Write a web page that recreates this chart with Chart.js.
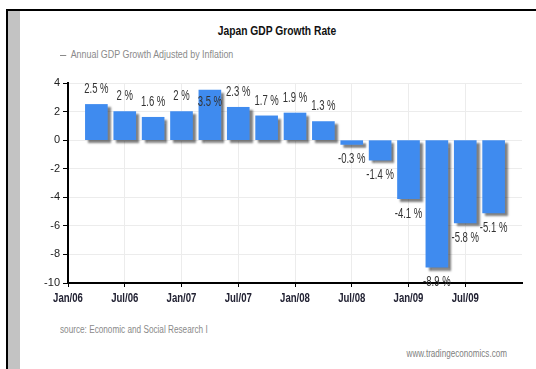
<!DOCTYPE html>
<html>
<head>
<meta charset="utf-8">
<script src="https://cdn.jsdelivr.net/npm/chart.js@4.4.1/dist/chart.umd.min.js"></script>
<style>
  body { margin: 0; background: #fff; }
  #page { position: relative; width: 536px; height: 369px; overflow: hidden; font-family: 'Liberation Sans', Arial, sans-serif; }
  .frame-top { position: absolute; left: 6px; top: 9px; width: 530px; height: 2px; background: #000; }
  .frame-left { position: absolute; left: 6px; top: 9px; width: 2px; height: 360px; background: #000; }
  .frame-strip { position: absolute; left: 8px; top: 11px; width: 12px; height: 358px; background: #c3c3c3; }
  .txt { position: absolute; white-space: nowrap; }
  #title { left: 277px; top: 23px; font-weight: bold; font-size: 13px; color: #111; transform: translateX(-50%) scaleX(0.79); }
  #legend { left: 60px; top: 49px; font-size: 10px; color: #8a8a8a; transform-origin: 0 50%; transform: scaleX(0.89); }
  #legend .dash { display: inline-block; width: 7px; height: 1px; background: #8a8a8a; vertical-align: middle; margin-right: 5px; }
  #source { left: 60px; top: 324px; font-size: 10px; color: #8a8a8a; transform-origin: 0 50%; transform: scaleX(0.82); }
  #site { right: 29px; top: 348px; font-size: 10px; color: #808080; transform-origin: 100% 50%; transform: scaleX(0.81); }
  canvas { position: absolute; left: 0; top: 0; }
</style>
</head>
<body>
<div id="page">
  <div class="frame-strip"></div>
  <div class="frame-top"></div>
  <div class="frame-left"></div>
  <div class="txt" id="title">Japan GDP Growth Rate</div>
  <div class="txt" id="legend"><span class="dash"></span>Annual GDP Growth Adjusted by Inflation</div>
  <div class="txt" id="source">source: Economic and Social Research I</div>
  <div class="txt" id="site">www.tradingeconomics.com</div>
  <canvas id="gdpChart" width="536" height="369"></canvas>
</div>
<script>
// quarterly data, Q1 2006 .. Q3 2009
const quarters = ['2006 Q1', '2006 Q2', '2006 Q3', '2006 Q4',
                  '2007 Q1', '2007 Q2', '2007 Q3', '2007 Q4',
                  '2008 Q1', '2008 Q2', '2008 Q3', '2008 Q4',
                  '2009 Q1', '2009 Q2', '2009 Q3'];
const growth = [2.5, 2, 1.6, 2, 3.5, 2.3, 1.7, 1.9, 1.3, -0.3, -1.4, -4.1, -8.9, -5.8, -5.1];
const xTickLabels = ['Jan/06', 'Jul/06', 'Jan/07', 'Jul/07', 'Jan/08', 'Jul/08', 'Jan/09', 'Jul/09'];
const yMin = -10, yMax = 4, yStep = 2;

const FONT = "'Liberation Sans', Arial, sans-serif";

// months since Jan 2006 at the end of each quarter
function quarterMonth(q) {
    const parts = q.split(' Q');
    return (parseInt(parts[0]) - 2006) * 12 + parseInt(parts[1]) * 3;
}

const points = quarters.map((q, i) => ({ x: quarterMonth(q), y: growth[i] }));

// narrow text: squeeze horizontally around (x, y)
function narrowText(c, text, x, y, sx) {
    c.save();
    c.translate(x, y);
    c.scale(sx, 1);
    c.fillText(text, 0, 0);
    c.restore();
}

// drop shadow under the bars
const barShadow = {
    id: 'barShadow',
    beforeDatasetsDraw(chart) {
        const c = chart.ctx;
        c.save();
        c.shadowColor = 'rgba(0,0,0,0.5)';
        c.shadowOffsetX = 3;
        c.shadowOffsetY = 3;
        c.shadowBlur = 2;
    },
    afterDatasetsDraw(chart) {
        chart.ctx.restore();
    }
};

// "2.5 %" labels over / under each bar
const valueLabels = {
    id: 'valueLabels',
    afterDatasetsDraw(chart) {
        const c = chart.ctx;
        const area = chart.chartArea;
        c.save();
        c.font = '14px ' + FONT;
        c.fillStyle = '#333';
        c.textAlign = 'center';
        c.textBaseline = 'middle';
        chart.getDatasetMeta(0).data.forEach((bar, i) => {
            const v = growth[i];
            let y;
            if (v >= 0) {
                y = bar.y - 15;
                if (y < area.top - 2) y = bar.y + 12;
            } else {
                y = bar.y + 15;
            }
            narrowText(c, v + ' %', bar.x, y, 0.68);
        });
        c.restore();
    }
};

// x axis labels (drawn narrow, like the original)
const xLabels = {
    id: 'xLabels',
    afterDraw(chart) {
        const c = chart.ctx;
        const sx = chart.scales.x;
        c.save();
        c.font = 'bold 12px ' + FONT;
        c.fillStyle = '#223';
        c.textAlign = 'center';
        c.textBaseline = 'middle';
        xTickLabels.forEach((lbl, i) => {
            narrowText(c, lbl, sx.getPixelForValue(i * 6), sx.top + 16, 0.8);
        });
        c.restore();
    }
};

const gridColor = ctx => (ctx.tick && ctx.tick.value === 48) ? 'rgba(0,0,0,0)' : '#ececec';
const xTickColor = ctx => (ctx.tick && ctx.tick.value === 48) ? 'rgba(0,0,0,0)' : '#000';

new Chart(document.getElementById('gdpChart'), {
    type: 'bar',
    data: {
        datasets: [{
            label: 'Annual GDP Growth Adjusted by Inflation',
            data: points,
            backgroundColor: '#3f8bef',
            borderWidth: 0,
            barThickness: 22
        }]
    },
    options: {
        responsive: false,
        animation: false,
        layout: { padding: { top: 83, right: 14, bottom: 56, left: 38 } },
        plugins: {
            legend: { display: false },
            title: { display: false },
            tooltip: { enabled: false }
        },
        scales: {
            x: {
                type: 'linear',
                min: 0,
                max: 48,
                offset: false,
                grid: { offset: false, color: gridColor, tickColor: xTickColor, tickLength: 4 },
                border: { color: '#000', width: 2 },
                ticks: { stepSize: 6, autoSkip: false, display: false },
                afterFit: s => { s.height = 30; }
            },
            y: {
                min: yMin,
                max: yMax,
                grid: { color: '#ececec', tickColor: '#000', tickLength: 5 },
                border: { color: '#000', width: 2 },
                ticks: {
                    stepSize: yStep,
                    padding: 3,
                    color: '#222',
                    font: { family: FONT, size: 11 }
                },
                afterFit: s => { s.width = 30; }
            }
        }
    },
    plugins: [barShadow, valueLabels, xLabels]
});
</script>
</body>
</html>
